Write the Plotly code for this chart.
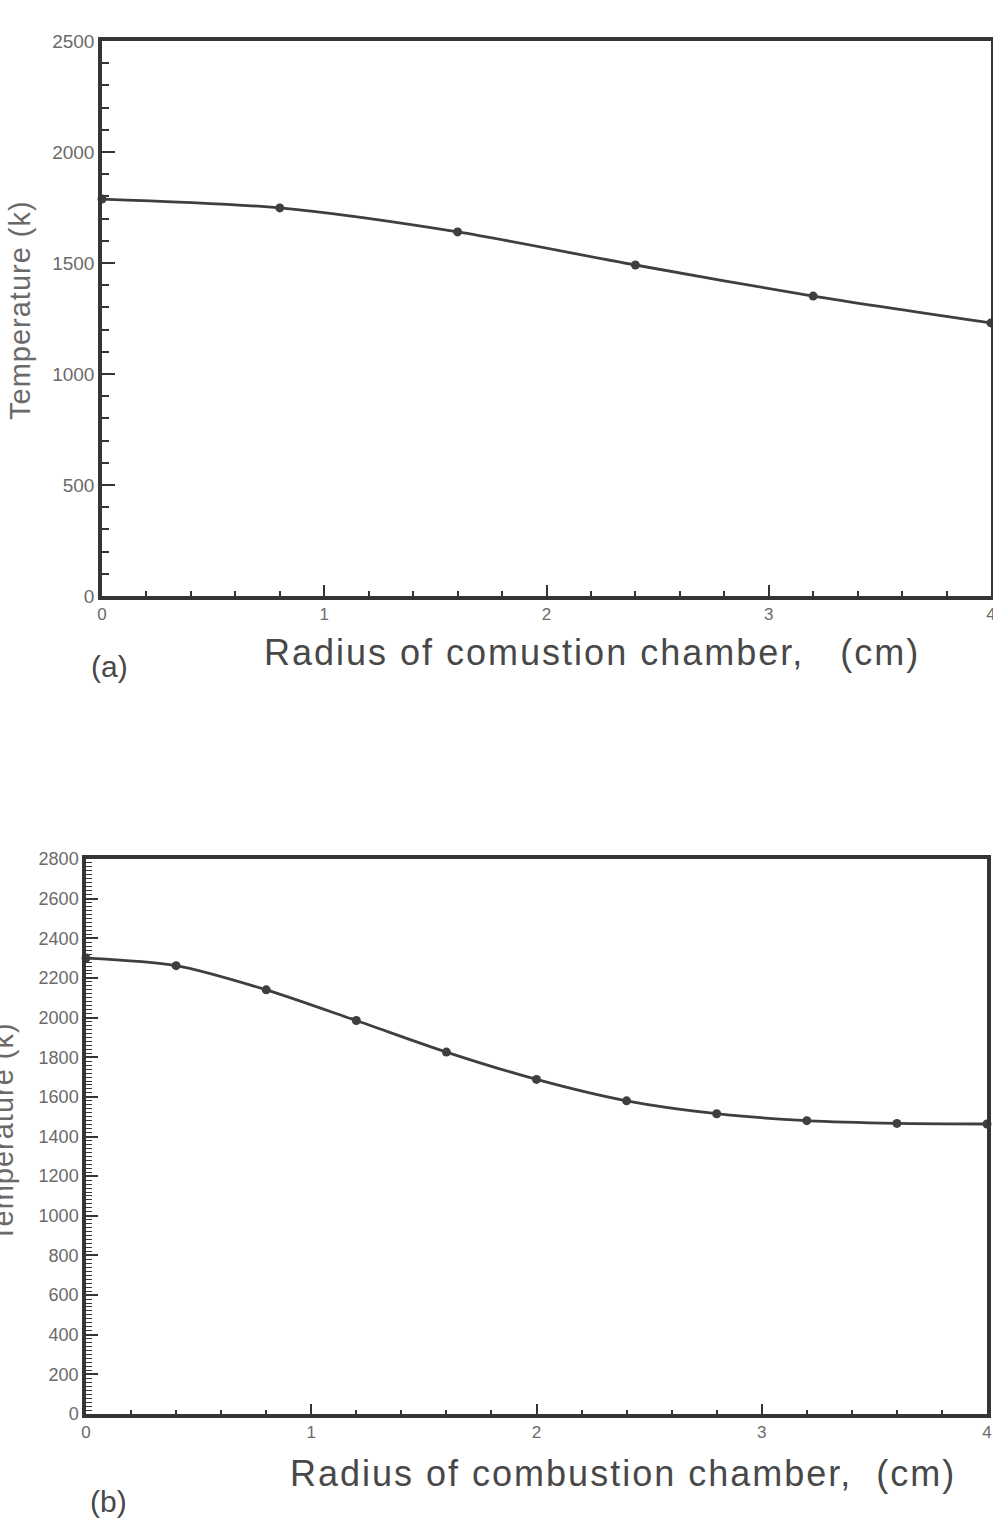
import plotly.graph_objects as go

# Data (a)
radius_a = [0.0, 0.8, 1.6, 2.4, 3.2, 4.0]
temp_a = [1788, 1748, 1640, 1491, 1351, 1230]

# Data (b)
radius_b = [0.0, 0.4, 0.8, 1.2, 1.6, 2.0, 2.4, 2.8, 3.2, 3.6, 4.0]
temp_b = [2300, 2262, 2140, 1985, 1826, 1688, 1580, 1515, 1480, 1466, 1463]

W, H = 993, 1524
LINE = "#3f3f3f"
AX = "#353535"
TXT = "#6a6a6a"
FONT = "Liberation Sans, Arial, sans-serif"

fig = go.Figure()
fig.add_trace(go.Scatter(x=radius_a, y=temp_a, mode="lines+markers",
                         line=dict(color=LINE, width=2.8, shape="spline", smoothing=0.8),
                         marker=dict(color=LINE, size=9), xaxis="x", yaxis="y",
                         showlegend=False, cliponaxis=False))
fig.add_trace(go.Scatter(x=radius_b, y=temp_b, mode="lines+markers",
                         line=dict(color=LINE, width=2.8, shape="spline", smoothing=0.8),
                         marker=dict(color=LINE, size=9), xaxis="x2", yaxis="y2",
                         showlegend=False, cliponaxis=False))

def px_x(p):
    return p / W

def px_y(p):
    return 1 - p / H

common_axis = dict(showline=True, linecolor=AX, linewidth=3.5, mirror=True,
                   showgrid=False, zeroline=False, ticks="inside",
                   tickcolor=AX, tickwidth=2, automargin=False,
                   ticklabeloverflow="allow")

xfont = dict(family=FONT, size=17, color=TXT)

fig.update_layout(
    width=W, height=H, autosize=False,
    margin=dict(l=0, r=0, t=0, b=0, pad=0),
    paper_bgcolor="white", plot_bgcolor="white",
    xaxis=dict(domain=[px_x(102), px_x(991)], range=[0, 4], dtick=1, tick0=0,
               ticklen=11, anchor="y", tickfont=xfont,
               minor=dict(dtick=0.2, ticks="inside", ticklen=5, tickcolor=AX, tickwidth=1.5),
               **common_axis),
    yaxis=dict(domain=[px_y(596), px_y(41)], range=[0, 2500], dtick=500, tick0=0,
               ticklen=13, anchor="x", tickfont=dict(family=FONT, size=19, color=TXT),
               minor=dict(dtick=100, ticks="inside", ticklen=7, tickcolor=AX, tickwidth=1.5),
               **common_axis),
    xaxis2=dict(domain=[px_x(86), px_x(987)], range=[0, 4], dtick=1, tick0=0,
                ticklen=10, anchor="y2", tickfont=xfont,
                minor=dict(dtick=0.2, ticks="inside", ticklen=4, tickcolor=AX, tickwidth=1.5),
                **common_axis),
    yaxis2=dict(domain=[px_y(1414), px_y(859)], range=[0, 2800], dtick=200, tick0=0,
                ticklen=12, anchor="x2", tickfont=dict(family=FONT, size=18, color=TXT),
                minor=dict(dtick=20, ticks="inside", ticklen=6, tickcolor=AX, tickwidth=1.2),
                **common_axis),
)

def spaced(t, sp):
    return f'<span style="letter-spacing:{sp}px">{t}</span>'

TITLE = "#484848"
annotations = [
    dict(text=spaced("Radius of comustion chamber,&nbsp;&nbsp;&nbsp;(cm)", 2),
         x=px_x(592), y=px_y(652), font=dict(family=FONT, size=36, color=TITLE)),
    dict(text="(a)", x=px_x(109), y=px_y(666),
         font=dict(family=FONT, size=30, color=TITLE)),
    dict(text=spaced("Temperature (k)", 1), x=px_x(20), y=px_y(310), textangle=-90,
         font=dict(family=FONT, size=29, color=TXT)),
    dict(text=spaced("Radius of combustion chamber,&nbsp;&nbsp;(cm)", 2),
         x=px_x(623), y=px_y(1473), font=dict(family=FONT, size=36, color=TITLE)),
    dict(text="(b)", x=px_x(108), y=px_y(1501),
         font=dict(family=FONT, size=30, color=TITLE)),
    dict(text=spaced("Temperature (k)", 1), x=px_x(3), y=px_y(1132), textangle=-90,
         font=dict(family=FONT, size=29, color=TXT)),
]
for a in annotations:
    a.update(xref="paper", yref="paper", showarrow=False, xanchor="center", yanchor="middle")
fig.update_layout(annotations=annotations)

fig.write_html("out.html")
